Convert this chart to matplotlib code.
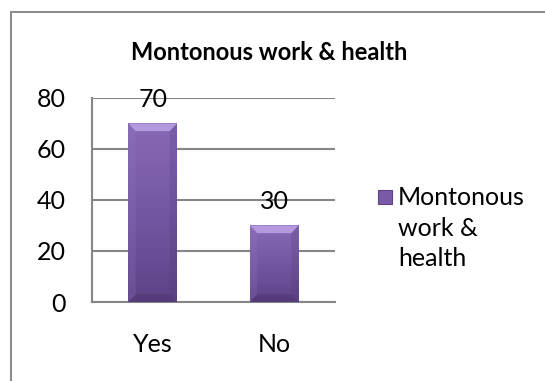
import numpy as np
import matplotlib
matplotlib.use('Agg')
import matplotlib.pyplot as plt
from matplotlib.patches import Rectangle, Polygon
from matplotlib.colors import LinearSegmentedColormap

# Survey result
categories = ['Yes', 'No']
values = [70, 30]
series_name = 'Montonous work & health'
y_ticks = [0, 20, 40, 60, 80]

plt.rcParams['font.family'] = ['Lato', 'DejaVu Sans']

W, H = 545, 381
fig = plt.figure(figsize=(W / 100, H / 100), dpi=100)
ax = fig.add_axes([92 / W, 1 - 302 / H, 243 / W, 204 / H])

x = np.arange(len(categories))
bars = ax.bar(x, values, width=0.4, color='#7a5aa6', zorder=3)

ax.set_xlim(-0.5, len(categories) - 0.5)
ax.set_ylim(0, max(y_ticks))

# vertical gradient and bevel on each bar
grad = LinearSegmentedColormap.from_list('purple', ['#5e4388', '#7457a2', '#8768b6'])
bev_x, bev_y = 0.06, 3.0
for bar in bars:
    x0, y0 = bar.get_x(), bar.get_y()
    w, h = bar.get_width(), bar.get_height()
    x1, y1 = x0 + w, y0 + h
    img = ax.imshow(np.linspace(0, 1, 64).reshape(-1, 1), cmap=grad, origin='lower',
                    extent=(x0, x1, y0, y1), aspect='auto', zorder=3.5)
    img.set_clip_path(bar)
    ax.add_patch(Polygon([(x0, y1), (x1, y1), (x1 - bev_x, y1 - bev_y), (x0 + bev_x, y1 - bev_y)],
                         closed=True, fc='#b39ade', ec='none', zorder=4))
    ax.add_patch(Polygon([(x0, y0), (x1, y0), (x1 - bev_x, y0 + bev_y), (x0 + bev_x, y0 + bev_y)],
                         closed=True, fc='#4e3670', ec='none', alpha=0.6, zorder=4))
    ax.add_patch(Polygon([(x1, y0), (x1, y1), (x1 - bev_x, y1 - bev_y), (x1 - bev_x, y0 + bev_y)],
                         closed=True, fc='#4e3670', ec='none', alpha=0.2, zorder=4))
    ax.add_patch(Polygon([(x0, y0), (x0, y1), (x0 + bev_x, y1 - bev_y), (x0 + bev_x, y0 + bev_y)],
                         closed=True, fc='#9a80c8', ec='none', alpha=0.2, zorder=4))
    ax.annotate(str(int(h)), (x0 + w / 2, y1), xytext=(0, 12), textcoords='offset points',
                ha='center', va='baseline', fontsize=18, color='black', zorder=5)

ax.set_xticks(x)
ax.set_xticklabels(categories, fontsize=18)
ax.set_yticks(y_ticks)
ax.set_yticklabels([str(t) for t in y_ticks], fontsize=18)
ax.tick_params(axis='y', length=0, pad=19)
ax.tick_params(axis='x', length=0, pad=22)

ax.set_axisbelow(True)
ax.yaxis.grid(True, color='#868686', linewidth=1.5)
for side in ['top', 'right']:
    ax.spines[side].set_visible(False)
for side in ['left', 'bottom']:
    ax.spines[side].set_color('#868686')
    ax.spines[side].set_linewidth(1.5)

# chart title
fig.text(269 / W, 1 - 53 / H, series_name, ha='center', va='center',
         fontsize=17, fontweight='bold')

# legend: swatch and wrapped label
fig.add_artist(Rectangle((378 / W, 1 - 204 / H), 14 / W, 14 / H, transform=fig.transFigure,
                         fc='#7a5aa6', ec='#5e4388', lw=0.8))
fig.text(398 / W, 1 - 186 / H, 'Montonous\nwork &\nhealth', ha='left', va='top',
         fontsize=18, linespacing=1.4)

# outer chart border
fig.add_artist(Rectangle((11 / W, -0.1), 1.2, 1.1 - 12 / H, transform=fig.transFigure,
                         fill=False, ec='#8c8c8c', lw=1.5))

fig.savefig('out.png', dpi=100)
